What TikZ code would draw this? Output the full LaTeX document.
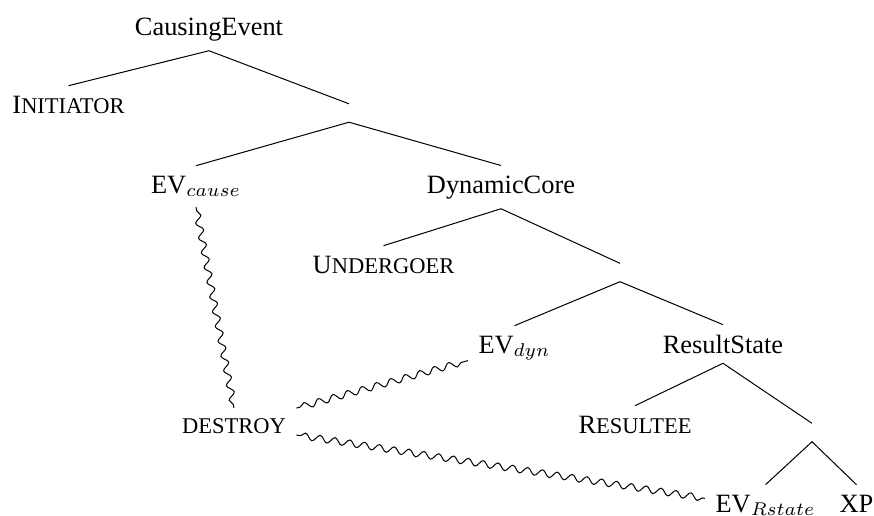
\documentclass[tikz,border=0pt]{standalone}
\usepackage{fontspec}
\setmainfont{Liberation Serif}
\usetikzlibrary{decorations.pathmorphing}
\newcommand\fakesc[1]{{\fontsize{8.52}{9}\selectfont #1}}
\begin{document}
\begin{tikzpicture}[x=1pt,y=-1pt,
  lbl/.style={anchor=base, scale=2.64, inner xsep=3.8pt, inner ysep=3.6pt, font=\fontsize{10}{12}\selectfont},
  gap/.style={minimum height=18pt, minimum width=0pt, inner sep=0pt},
  branch/.style={line width=1pt},
  wavy/.style={line width=1pt, decorate, decoration={snake, segment length=15pt, amplitude=3.3pt, pre length=4pt, post length=2pt}}]
\useasboundingbox (0,0) rectangle (874,515);
% nodes
\node[lbl] (CE)  at (209,35)    {CausingEvent};
\node[lbl] (INI) at (68.5,113)  {I\fakesc{NITIATOR}};
\node[gap] (d1)  at (349,113)   {};
\node[lbl] (EVc) at (196,193)   {EV$_{cause}$};
\node[lbl] (DC)  at (501,193)   {DynamicCore};
\node[lbl] (UND) at (383.5,273) {U\fakesc{NDERGOER}};
\node[gap] (d2)  at (620,272.5) {};
\node[lbl] (EVd) at (514.5,353) {EV$_{dyn}$};
\node[lbl] (RS)  at (723,353)   {ResultState};
\node[lbl] (RES) at (635,433)   {R\fakesc{ESULTEE}};
\node[lbl] (DES) at (234,433)   {\fakesc{DESTROY}};
\node[gap] (d3)  at (812,432.5) {};
\node[lbl] (EVr) at (765.5,512) {EV$_{Rstate}$};
\node[lbl] (XP)  at (856.5,512) {XP};
% branches
\draw[branch] (INI.north) -- (CE.south) -- (d1.north);
\draw[branch] (EVc.north) -- (d1.south) -- (DC.north);
\draw[branch] (UND.north) -- (DC.south) -- (d2.north);
\draw[branch] (EVd.north) -- (d2.south) -- (RS.north);
\draw[branch] (RES.north) -- (RS.south) -- (d3.north);
\draw[branch] (EVr.north) -- (d3.south) -- (XP.north);
% wavy links
\draw[wavy] (EVc.south) -- (DES.north);
\draw[wavy] (DES.north east) -- ([yshift=10pt]EVd.south west);
\draw[wavy] ([yshift=-2pt]DES.base east) -- ([yshift=7pt]EVr.west);
\end{tikzpicture}
\end{document}
